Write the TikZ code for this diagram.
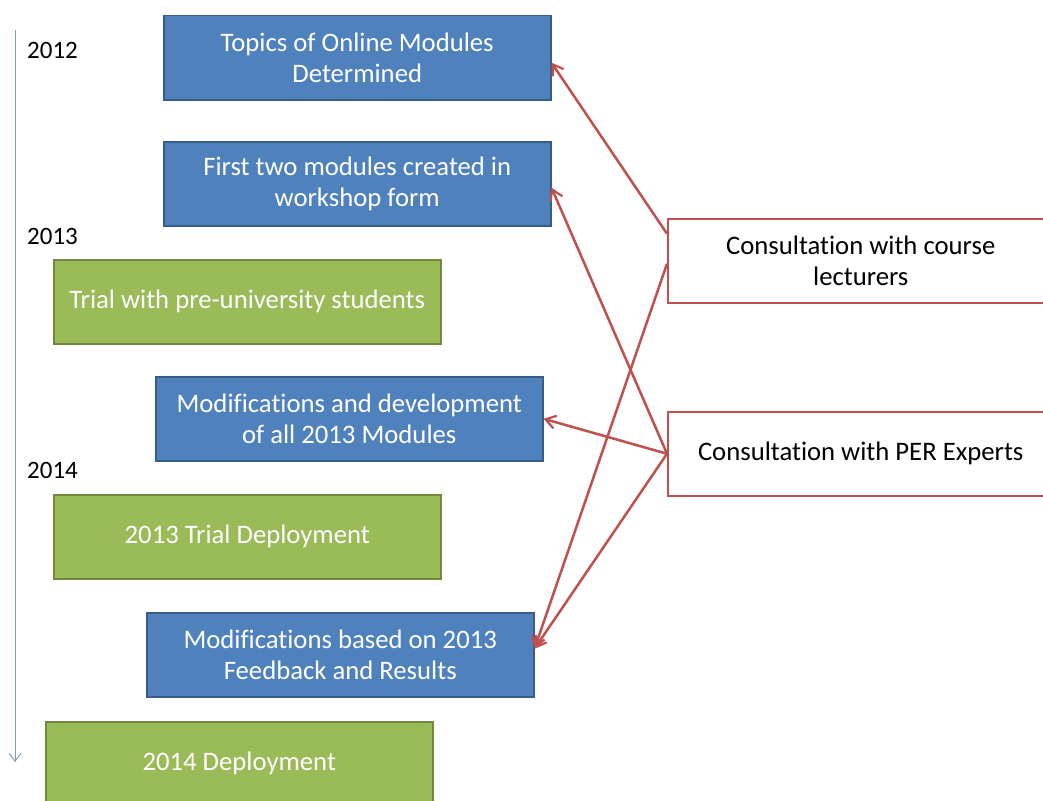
\documentclass[tikz,border=0pt]{standalone}
\usepackage{fontspec}
\setmainfont{Carlito}[Ligatures=NoCommon]
\usetikzlibrary{arrows.meta,calc}
\definecolor{bluefill}{HTML}{4F81BD}
\definecolor{blueedge}{HTML}{385D8A}
\definecolor{greenfill}{HTML}{9BBB59}
\definecolor{greenedge}{HTML}{71893F}
\definecolor{redc}{HTML}{C0504D}
\definecolor{timec}{HTML}{7F9CC4}
\begin{document}
\begin{tikzpicture}[x=1pt,y=-1pt,
  base/.style={rectangle, anchor=north west, minimum width=387pt, minimum height=84pt,
    inner sep=2pt, align=center, font=\fontsize{26.7}{31.5}\selectfont, line width=1.5pt},
  bluebox/.style={base, fill=bluefill, draw=blueedge, text=white},
  greenbox/.style={base, fill=greenfill, draw=greenedge, text=white},
  redbox/.style={base, fill=white, draw=redc, text=black, minimum width=386pt},
  yearlbl/.style={anchor=west, inner sep=0pt, font=\fontsize{25}{28}\selectfont},
  conn/.style={draw=redc, line width=2.5pt, -{Straight Barb[length=10pt,width=13pt,line width=2.2pt]}},
  timeline/.style={draw=timec, line width=1pt, -{Straight Barb[length=8pt,width=12pt,line width=1pt]}}
]
\useasboundingbox (0,0) rectangle (1043,800);

\node[bluebox] (b1) at (163,15) {Topics of Online Modules\\Determined};
\node[bluebox] (b2) at (163,141) {First two modules created in\\workshop form};
\node[greenbox] (g1) at (53,259) {Trial with pre-university students};
\node[bluebox] (b3) at (155,376) {Modifications and development\\of all 2013 Modules};
\node[greenbox] (g2) at (53,494) {2013 Trial Deployment};
\node[bluebox] (b4) at (146,612) {Modifications based on 2013\\Feedback and Results};
\node[greenbox] (g3) at (45,721) {2014 Deployment};

\node[redbox] (r1) at (667,218) {Consultation with course\\lecturers};
\node[redbox] (r2) at (667,411) {Consultation with PER Experts};

\coordinate (ttop) at (15,30);
\coordinate (tbot) at (15,762);
\draw[timeline] (ttop) -- (tbot);

\node[yearlbl] (y12) at (27,50) {2012};
\node[yearlbl] (y13) at (27,236) {2013};
\node[yearlbl] (y14) at (27,470) {2014};

\draw[conn] ([yshift=27pt]r1.west) -- ([yshift=-5pt]b1.east);
\draw[conn] ([yshift=-3pt]r1.west) -- ([yshift=6pt]b4.east);
\draw[conn] (r2.west) -- ([yshift=-4pt]b2.east);
\draw[conn] (r2.west) -- (b3.east);
\draw[conn] (r2.west) -- ([yshift=6pt]b4.east);
\end{tikzpicture}
\end{document}
